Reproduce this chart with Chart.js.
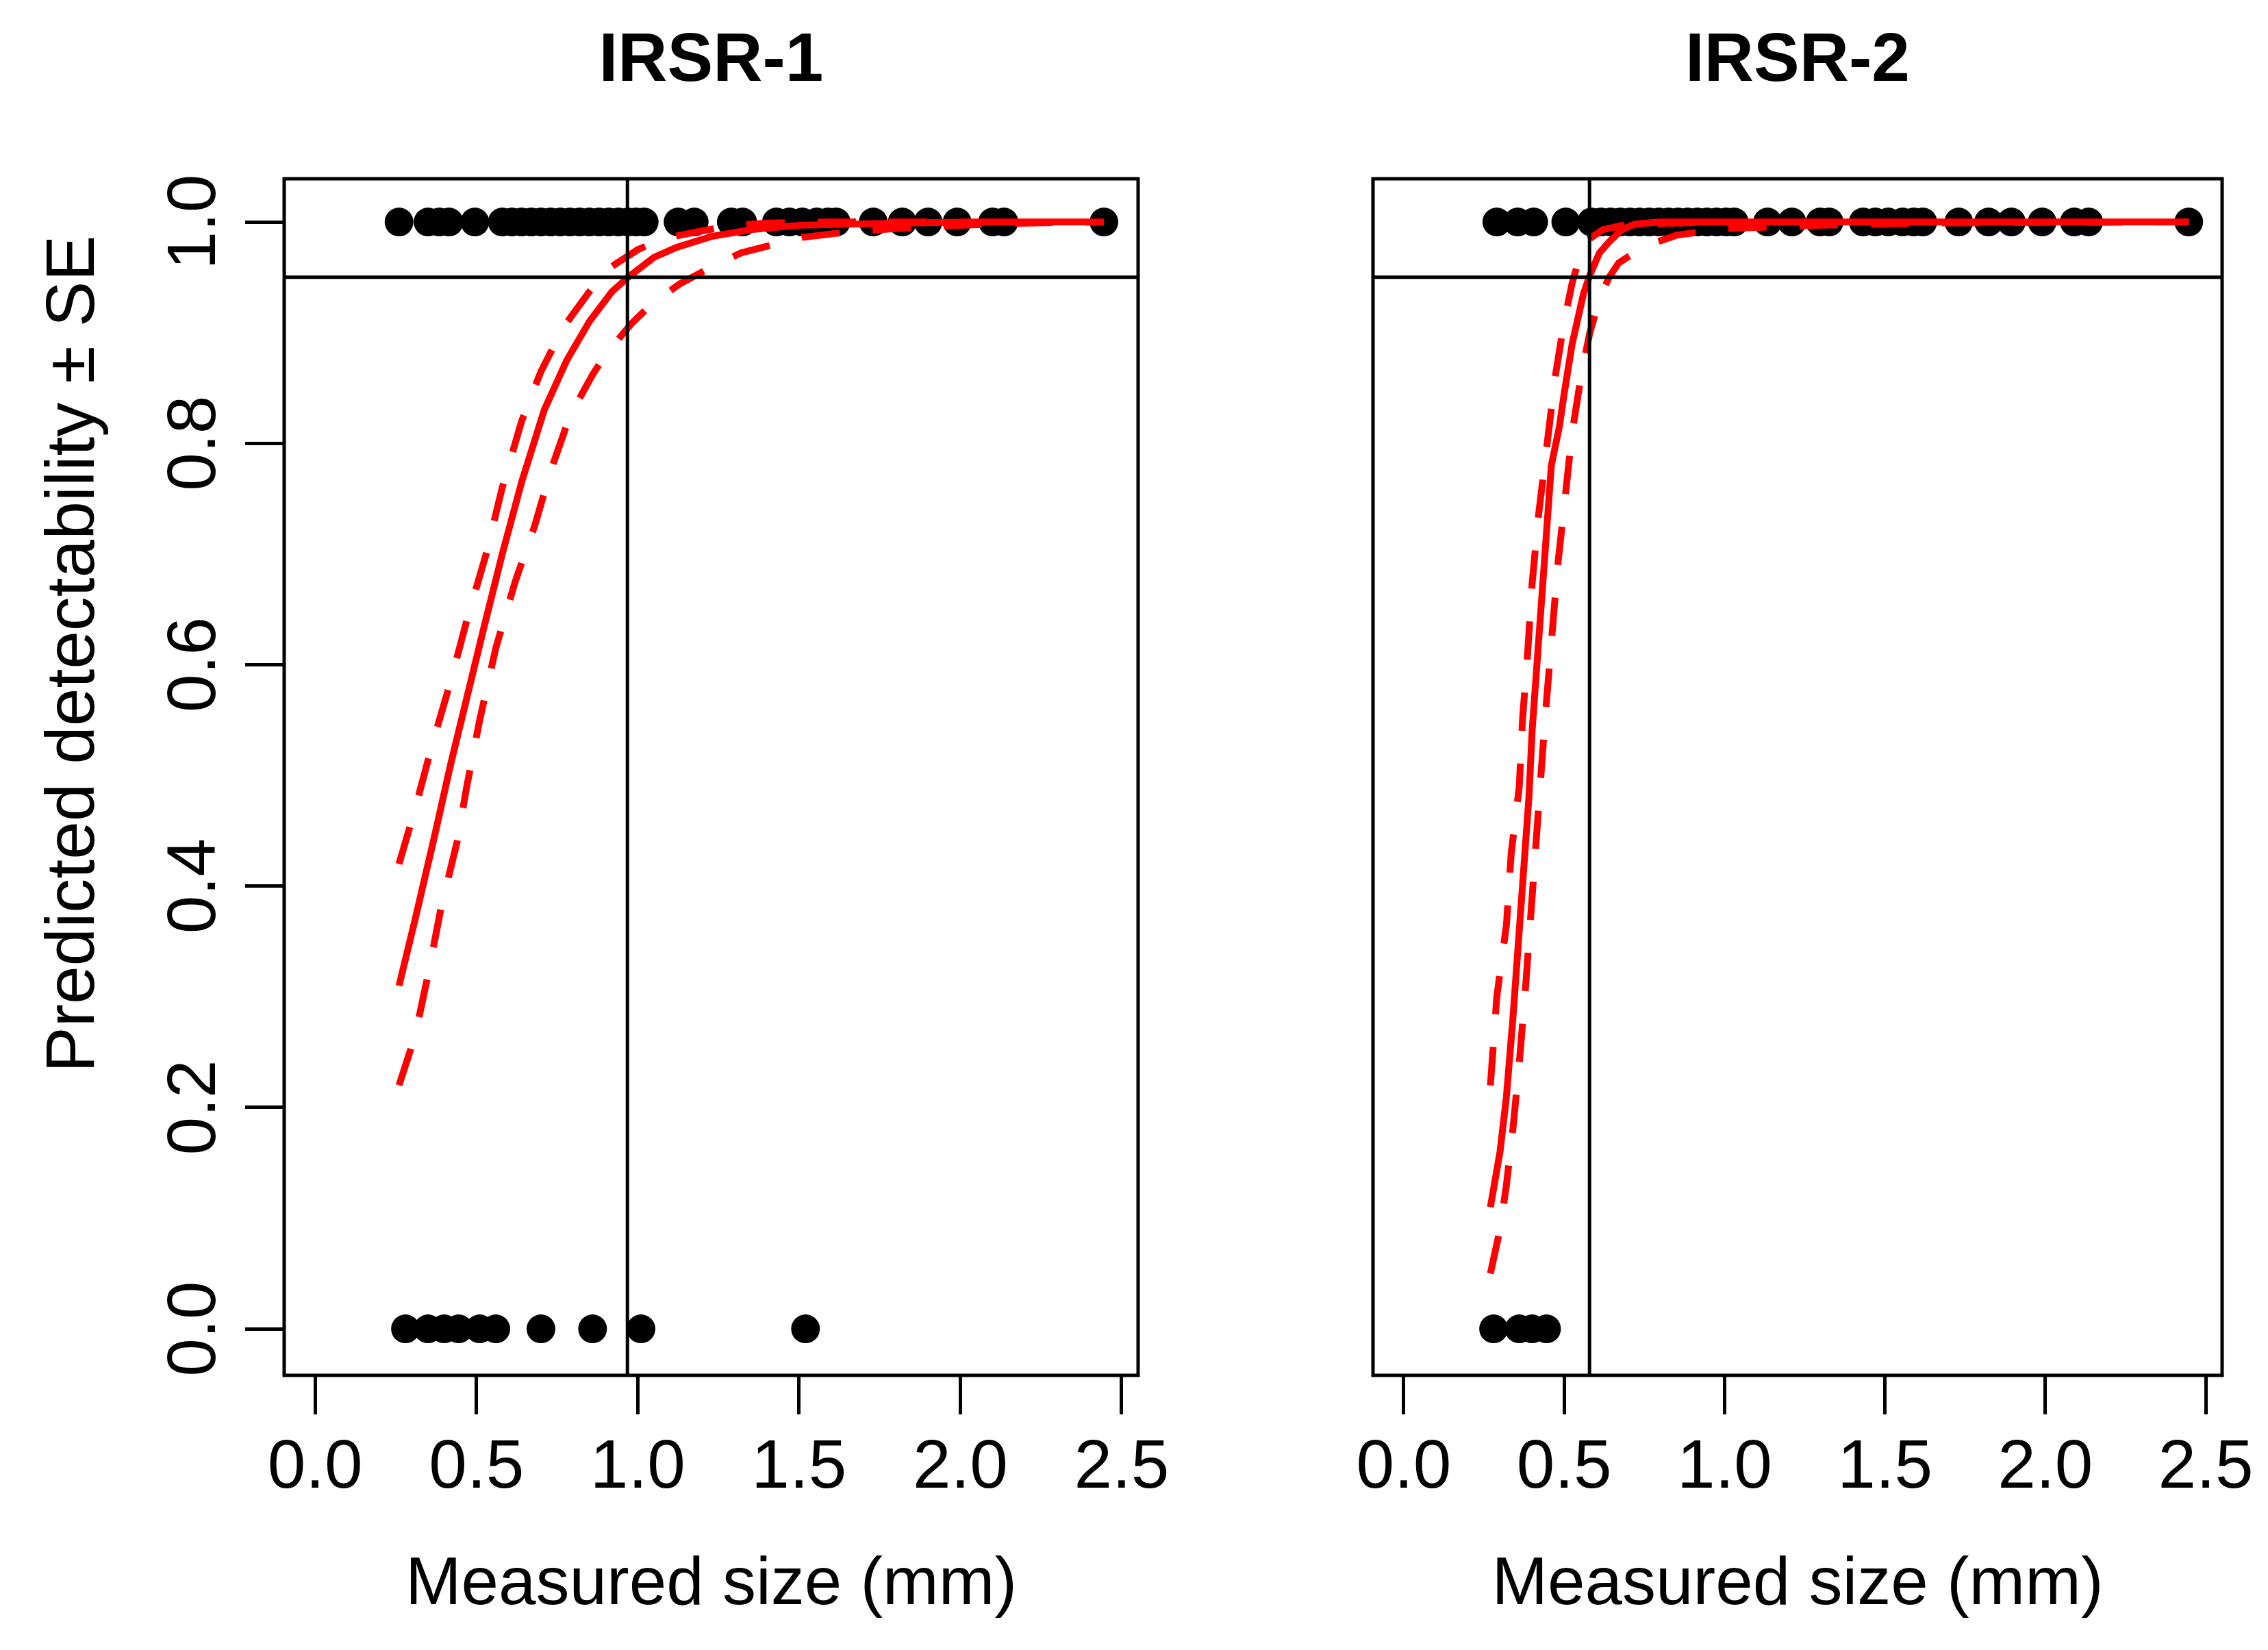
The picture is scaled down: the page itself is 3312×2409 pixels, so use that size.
<!DOCTYPE html>
<html><head><meta charset="utf-8">
<script src="https://cdn.jsdelivr.net/npm/chart.js@4.4.0/dist/chart.umd.min.js"></script>
<style>
html,body{margin:0;padding:0;background:#fff;width:3312px;height:2409px;overflow:hidden;}
canvas{position:absolute;top:0;}
#c1{left:0;}
#c2{left:1800px;}
</style></head><body>
<canvas id="c1" width="1800" height="2409" style="width:1800px;height:2409px"></canvas>
<canvas id="c2" width="1512" height="2409" style="width:1512px;height:2409px"></canvas>
<script>
// ---------- data ----------
const panelTitles = ['IRSR-1', 'IRSR-2'];
const xAxisTitle = 'Measured size (mm)';
const yAxisTitle = 'Predicted detectability \u00b1 SE';
const xTicks = [0.0, 0.5, 1.0, 1.5, 2.0, 2.5];
const yTicks = [0.0, 0.2, 0.4, 0.6, 0.8, 1.0];
const xMin = -0.096, xMax = 2.551;
const yMin = -0.042, yMax = 1.039;
const threshold = 0.95;
const cutoff1 = 0.968;
const cutoff2 = 0.579;

// IRSR-1 observations (size, detected = 1 / missed = 0)
const irsr1Detected = [0.26, 0.35, 0.385, 0.415, 0.495, 0.58, 0.61, 0.64, 0.67, 0.70, 0.73, 0.76, 0.79, 0.82, 0.85, 0.88, 0.91, 0.94, 0.97, 0.995, 1.02, 1.125, 1.175, 1.29, 1.325, 1.43, 1.47, 1.51, 1.555, 1.59, 1.615, 1.73, 1.82, 1.90, 1.99, 2.10, 2.135, 2.445];
const irsr1Missed = [0.28, 0.35, 0.40, 0.445, 0.51, 0.56, 0.70, 0.86, 1.01, 1.52];
// IRSR-1 fitted detectability and +/- SE
const irsr1FitX = [0.26, 0.31, 0.37, 0.42, 0.47, 0.52, 0.58, 0.64, 0.71, 0.78, 0.85, 0.92, 0.97, 1.05, 1.12, 1.23, 1.35, 1.50, 1.80, 2.10, 2.445];
const irsr1FitY = [0.31, 0.37, 0.445, 0.51, 0.57, 0.63, 0.70, 0.765, 0.83, 0.875, 0.91, 0.937, 0.95, 0.968, 0.977, 0.987, 0.993, 0.997, 0.999, 1.0, 1.0];
const irsr1UpX = [0.26, 0.31, 0.365, 0.42, 0.47, 0.53, 0.58, 0.64, 0.70, 0.77, 0.85, 0.91, 1.00, 1.08, 1.20, 1.30, 1.40, 1.60, 2.445];
const irsr1UpY = [0.42, 0.47, 0.53, 0.585, 0.64, 0.70, 0.76, 0.82, 0.865, 0.905, 0.937, 0.958, 0.975, 0.985, 0.992, 0.997, 0.999, 1.0, 1.0];
const irsr1LoX = [0.26, 0.31, 0.35, 0.39, 0.44, 0.47, 0.51, 0.56, 0.62, 0.68, 0.73, 0.79, 0.86, 0.90, 0.98, 1.04, 1.13, 1.22, 1.32, 1.40, 1.51, 1.65, 1.90, 2.20, 2.445];
const irsr1LoY = [0.22, 0.265, 0.32, 0.38, 0.44, 0.49, 0.55, 0.615, 0.675, 0.725, 0.775, 0.825, 0.862, 0.88, 0.908, 0.925, 0.944, 0.958, 0.972, 0.978, 0.986, 0.991, 0.996, 0.999, 1.0];

// IRSR-2 observations
const irsr2Detected = [0.29, 0.355, 0.405, 0.505, 0.585, 0.615, 0.645, 0.675, 0.705, 0.735, 0.765, 0.795, 0.825, 0.855, 0.885, 0.915, 0.945, 0.975, 1.005, 1.03, 1.134, 1.21, 1.298, 1.326, 1.432, 1.47, 1.51, 1.555, 1.59, 1.618, 1.73, 1.823, 1.894, 1.99, 2.09, 2.135, 2.447];
const irsr2Missed = [0.28, 0.36, 0.40, 0.445];
// IRSR-2 fitted detectability and +/- SE
const irsr2FitX = [0.27, 0.30, 0.32, 0.34, 0.36, 0.375, 0.39, 0.40, 0.415, 0.43, 0.445, 0.46, 0.485, 0.50, 0.525, 0.56, 0.58, 0.61, 0.64, 0.68, 0.72, 0.80, 1.0, 1.5, 2.0, 2.447];
const irsr2FitY = [0.11, 0.16, 0.21, 0.28, 0.36, 0.42, 0.48, 0.54, 0.60, 0.66, 0.72, 0.78, 0.815, 0.845, 0.89, 0.935, 0.952, 0.972, 0.982, 0.993, 0.998, 1.0, 1.0, 1.0, 1.0, 1.0];
const irsr2UpX = [0.27, 0.29, 0.32, 0.335, 0.36, 0.37, 0.386, 0.40, 0.42, 0.447, 0.472, 0.50, 0.525, 0.55, 0.58, 0.62, 0.70, 1.0, 2.447];
const irsr2UpY = [0.22, 0.30, 0.365, 0.43, 0.49, 0.55, 0.61, 0.673, 0.735, 0.80, 0.86, 0.91, 0.945, 0.97, 0.985, 0.993, 0.998, 1.0, 1.0];
const irsr2LoX = [0.27, 0.30, 0.32, 0.34, 0.36, 0.38, 0.40, 0.42, 0.44, 0.46, 0.48, 0.51, 0.525, 0.555, 0.58, 0.61, 0.64, 0.67, 0.75, 0.85, 1.0, 1.3, 1.6, 2.447];
const irsr2LoY = [0.05, 0.09, 0.13, 0.18, 0.24, 0.31, 0.39, 0.47, 0.55, 0.62, 0.69, 0.77, 0.81, 0.865, 0.90, 0.93, 0.95, 0.963, 0.978, 0.988, 0.994, 0.997, 0.999, 1.0];

// ---------- drawing ----------
const FONT = '"Liberation Sans", Arial, Helvetica, sans-serif';
Chart.defaults.font.family = FONT;
Chart.defaults.color = '#000';

const zip = (xs, ys) => xs.map((x, i) => ({x: x, y: ys[i]}));
const fmt = v => Number(v).toFixed(1);

const boxPlugin = {
  id: 'rbox',
  beforeDatasetsDraw(chart) {
    const {ctx, chartArea: a} = chart;
    ctx.save();
    ctx.strokeStyle = '#000';
    ctx.lineWidth = 5;
    ctx.strokeRect(a.left, a.top, a.right - a.left, a.bottom - a.top);
    ctx.restore();
  }
};

const yTitlePlugin = {
  id: 'ytitle',
  afterDraw(chart) {
    const ctx = chart.ctx;
    ctx.save();
    ctx.translate(137, 955);
    ctx.rotate(-Math.PI / 2);
    ctx.font = '100px ' + FONT;
    ctx.fillStyle = '#000';
    ctx.textAlign = 'center';
    ctx.textBaseline = 'alphabetic';
    ctx.fillText(yAxisTitle, 0, 0);
    ctx.restore();
  }
};

function makePanel(id, p) {
  const red = '#ff0000';
  const lineBase = {showLine: true, pointRadius: 0, pointHoverRadius: 0, tension: 0, fill: false};
  const datasets = [
    Object.assign({label: 'threshold', data: [{x: xMin, y: threshold}, {x: xMax, y: threshold}], borderColor: '#000', borderWidth: 5, order: 1}, lineBase),
    Object.assign({label: 'cutoff', data: [{x: p.cut, y: yMin}, {x: p.cut, y: yMax}], borderColor: '#000', borderWidth: 5, order: 1}, lineBase),
    Object.assign({label: 'fit', data: zip(p.fitX, p.fitY), borderColor: red, borderWidth: 10, order: 2}, lineBase),
    Object.assign({label: '+SE', data: zip(p.upX, p.upY), borderColor: red, borderWidth: 10, borderDash: [56, 48], order: 2}, lineBase),
    Object.assign({label: '-SE', data: zip(p.loX, p.loY), borderColor: red, borderWidth: 10, borderDash: [56, 48], order: 2}, lineBase),
    {label: 'detected', data: p.det.map(x => ({x: x, y: 1})), showLine: false, pointRadius: 21, pointHoverRadius: 21, pointStyle: 'circle', backgroundColor: '#000', borderColor: '#000', borderWidth: 0, order: 3},
    {label: 'missed', data: p.miss.map(x => ({x: x, y: 0})), showLine: false, pointRadius: 21, pointHoverRadius: 21, pointStyle: 'circle', backgroundColor: '#000', borderColor: '#000', borderWidth: 0, order: 3}
  ];
  const plugins = [boxPlugin];
  if (p.showY) plugins.push(yTitlePlugin);
  return new Chart(document.getElementById(id), {
    type: 'scatter',
    data: {datasets: datasets},
    plugins: plugins,
    options: {
      responsive: false,
      maintainAspectRatio: false,
      devicePixelRatio: 1,
      animation: false,
      events: [],
      layout: {padding: p.padding},
      plugins: {
        legend: {display: false},
        tooltip: {enabled: false},
        title: {display: true, text: p.title, fullSize: false, color: '#000',
                font: {size: 100, weight: 'bold', family: FONT}, padding: {top: 30, bottom: 111}}
      },
      scales: {
        x: {
          type: 'linear', position: 'bottom', min: xMin, max: xMax,
          afterBuildTicks: s => { s.ticks = xTicks.map(v => ({value: v})); },
          afterFit: s => { s.height = 401; },
          ticks: {font: {size: 100, family: FONT}, color: '#000', padding: 19, minRotation: 0, maxRotation: 0, autoSkip: false, callback: fmt},
          grid: {display: true, drawOnChartArea: false, drawTicks: true, tickLength: 57, color: '#000', lineWidth: 5},
          border: {display: false},
          title: {display: true, text: xAxisTitle, color: '#000', font: {size: 98, family: FONT}, padding: {top: 0, bottom: 35}}
        },
        y: {
          type: 'linear', position: 'left', min: yMin, max: yMax, display: p.showY,
          afterBuildTicks: s => { s.ticks = yTicks.map(v => ({value: v})); },
          afterFit: s => { s.width = p.showY ? 415 : 0; },
          ticks: {font: {size: 100, family: FONT}, color: '#000', minRotation: 90, maxRotation: 90, crossAlign: 'center', padding: 2, autoSkip: false, callback: fmt},
          grid: {display: true, drawOnChartArea: false, drawTicks: true, tickLength: 57, color: '#000', lineWidth: 5},
          border: {display: false}
        }
      }
    }
  });
}

makePanel('c1', {
  title: panelTitles[0], showY: true, cut: cutoff1,
  padding: {left: 0, right: 138, top: 0, bottom: 0},
  det: irsr1Detected, miss: irsr1Missed,
  fitX: irsr1FitX, fitY: irsr1FitY, upX: irsr1UpX, upY: irsr1UpY, loX: irsr1LoX, loY: irsr1LoY
});
makePanel('c2', {
  title: panelTitles[1], showY: false, cut: cutoff2,
  padding: {left: 205, right: 67, top: 0, bottom: 0},
  det: irsr2Detected, miss: irsr2Missed,
  fitX: irsr2FitX, fitY: irsr2FitY, upX: irsr2UpX, upY: irsr2UpY, loX: irsr2LoX, loY: irsr2LoY
});
</script>
</body></html>
